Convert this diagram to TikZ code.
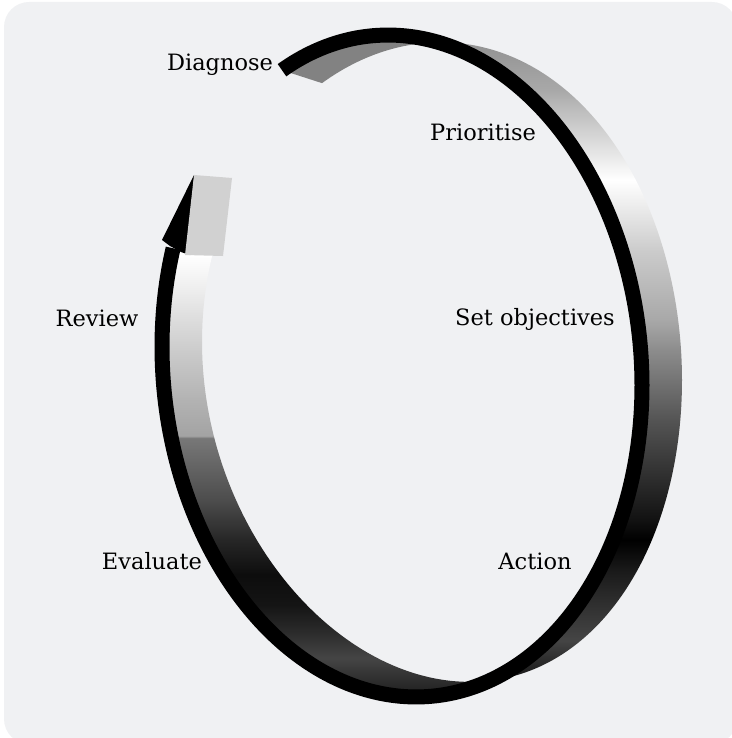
\documentclass[tikz,border=0pt]{standalone}
\usepackage{fontspec}
\setmainfont{DejaVu Serif}
\definecolor{bgc}{RGB}{240,241,243}
\definecolor{quadgray}{gray}{0.82}
\definecolor{tailgray}{gray}{0.51}
\pgfdeclareverticalshading{rightface}{100bp}{gray(0bp)=(0.05); gray(27.14bp)=(0.05); gray(28.93bp)=(0.15); gray(30.71bp)=(0.27); gray(32.86bp)=(0.20); gray(35.71bp)=(0.10); gray(37.86bp)=(0.0); gray(39.29bp)=(0.07); gray(42.86bp)=(0.20); gray(46.43bp)=(0.33); gray(51.43bp)=(0.55); gray(53.57bp)=(0.66); gray(58.57bp)=(0.80); gray(63.57bp)=(1); gray(68.57bp)=(0.74); gray(70bp)=(0.66); gray(74.29bp)=(0.55); gray(100bp)=(0.55)}
\pgfdeclareverticalshading{leftface}{100bp}{gray(0bp)=(0.12); gray(26.79bp)=(0.12); gray(27.86bp)=(0.18); gray(29.43bp)=(0.27); gray(31.07bp)=(0.18); gray(33.21bp)=(0.08); gray(35.36bp)=(0.05); gray(37.86bp)=(0.15); gray(40.71bp)=(0.30); gray(45.14bp)=(0.47); gray(45.29bp)=(0.64); gray(47.86bp)=(0.70); gray(51.43bp)=(0.80); gray(55.71bp)=(0.93); gray(58.21bp)=(1); gray(100bp)=(1)}
\begin{document}
\begin{tikzpicture}[x=1pt,y=-1pt,
  declare function={bx(\t)=402+240*cos(\t); by(\t)=366+19.3*cos(\t)-330.4*sin(\t);
    fx(\t)=442+240*cos(\t); fy(\t)=361+19.3*cos(\t)-330.4*sin(\t)+(11.7-18*cos(\t))*sin(\t);},
  lbl/.style={inner sep=0pt, anchor=base, font=\fontsize{22.5}{27}\selectfont},
  rim/.style={line width=15pt, black}]
\useasboundingbox (0,0) rectangle (731,738);
\fill[bgc, rounded corners=25pt] (4,2) rectangle (737,744);
% right face (outside the rim)
\begin{scope}
\clip plot[domain=91:-78.4, samples=150, variable=\t] ({fx(\t)},{fy(\t)})
  -- plot[domain=-68.5:81.4, samples=150, variable=\t] ({bx(\t)},{by(\t)}) -- cycle;
\shade[shading=rightface] (0,20) rectangle (731,720);
\end{scope}
% tail face piece
\fill[tailgray] plot[domain=120:91, samples=40, variable=\t] ({fx(\t)},{fy(\t)})
  -- plot[domain=81.4:120, samples=40, variable=\t] ({bx(\t)},{by(\t)}) -- cycle;
% left face (inside the rim)
\begin{scope}
\clip plot[domain=162.5:281.6, samples=150, variable=\t] ({fx(\t)},{fy(\t)})
  -- plot[domain=291.5:162.5, samples=150, variable=\t] ({bx(\t)},{by(\t)}) -- cycle;
\shade[shading=leftface] (0,20) rectangle (731,720);
\end{scope}
% black rim
\draw[rim] plot[domain=120:-197.5, samples=300, variable=\t] ({bx(\t)},{by(\t)});
% arrow head
\fill[black] (194,175) -- (162,240) -- (170,246) -- (181,252) -- (190,255) -- cycle;
\fill[quadgray] (194,175) -- (232,178) -- (223,256) -- (185,255) -- cycle;
% labels
\node[lbl] (diag) at (220,71) {Diagnose};
\node[lbl] (prio) at (483,141) {Prioritise};
\node[lbl] (setobj) at (535,325) {Set objectives};
\node[lbl] (rev) at (97,326) {Review};
\node[lbl] (eval) at (152,569) {Evaluate};
\node[lbl] (act) at (535,569) {Action};
\end{tikzpicture}
\end{document}
